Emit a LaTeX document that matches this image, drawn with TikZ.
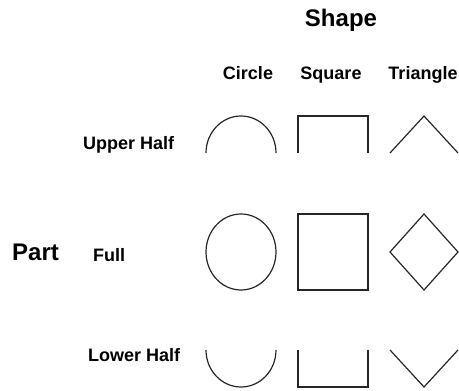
\documentclass[tikz,border=0pt]{standalone}
\usepackage{fontspec}
\setmainfont{Liberation Sans}
\begin{document}
\begin{tikzpicture}[x=1pt,y=1pt,
  big/.style={font=\fontsize{24}{27}\selectfont\bfseries, inner sep=0pt},
  lab/.style={font=\fontsize{18}{21}\selectfont\bfseries, inner sep=0pt},
  shp/.style={line width=1.2pt, draw=black!85}]
\useasboundingbox (0,0) rectangle (459,391);
% headers
\node[big, anchor=base] (shape) at (341,364) {Shape};
\node[lab, anchor=base] (circle) at (248,311) {Circle};
\node[lab, anchor=base] (square) at (331,311) {Square};
\node[lab, anchor=base] (triangle) at (423,311) {Triangle};
\node[lab, anchor=base west] (upper) at (83,241) {Upper Half};
\node[big, anchor=base west] (part) at (12,130) {Part};
\node[lab, anchor=base west] (full) at (93,129) {Full};
\node[lab, anchor=base west] (lower) at (88,29) {Lower Half};
% circles
\draw[shp] (206,238) arc[start angle=180,end angle=0,x radius=35,y radius=37];
\draw[shp] (241,139) ellipse[x radius=35,y radius=38];
\draw[shp] (206,41) arc[start angle=180,end angle=360,x radius=35,y radius=37];
% squares
\draw[shp] (298,238) -- (298,275) -- (368,275) -- (368,238);
\draw[shp] (298,101) rectangle (368,177);
\draw[shp] (298,41) -- (298,4) -- (368,4) -- (368,41);
% triangles
\draw[shp] (390,238) -- (424,275) -- (458,238);
\draw[shp] (390,139) -- (424,177) -- (458,139) -- (424,101) -- cycle;
\draw[shp] (390,41) -- (424,4) -- (458,41);
\end{tikzpicture}
\end{document}
